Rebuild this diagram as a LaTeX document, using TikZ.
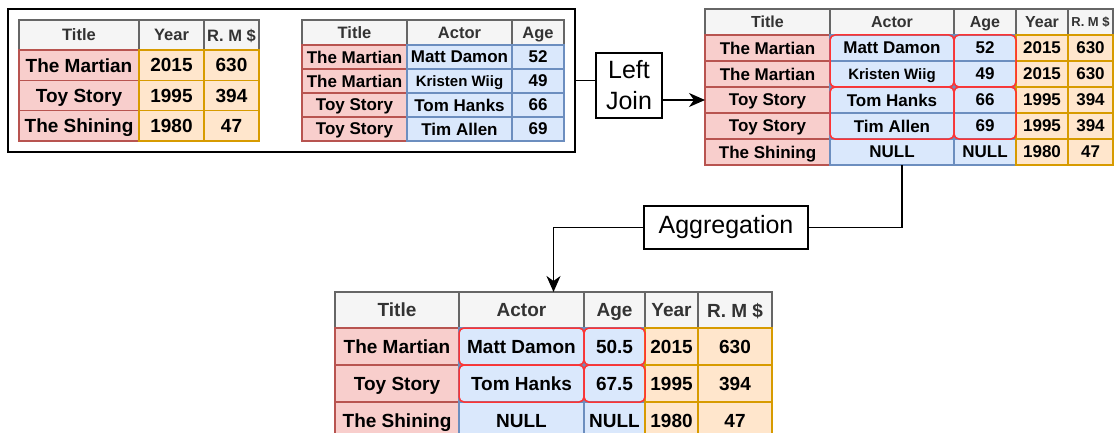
\documentclass[tikz,border=0pt]{standalone}
\usepackage{fontspec}
\setmainfont{Liberation Sans}
\usetikzlibrary{positioning,fit,arrows.meta}
\definecolor{headfill}{HTML}{F5F5F5}
\definecolor{headline}{HTML}{666666}
\definecolor{headtext}{HTML}{333333}
\definecolor{redfill}{HTML}{F8CECC}
\definecolor{redline}{HTML}{B85450}
\definecolor{bluefill}{HTML}{DAE8FC}
\definecolor{blueline}{HTML}{6C8EBF}
\definecolor{orangefill}{HTML}{FFE6CC}
\definecolor{orangeline}{HTML}{D79B00}
\definecolor{markline}{HTML}{FF3333}
\newcommand{\fsize}[1]{\fontsize{#1}{#1}\selectfont}

\begin{document}
\begin{tikzpicture}[x=1pt,y=-1pt]
            \tikzstyle{cell}=[draw, line width=1.5pt, inner sep=0pt, outer sep=0pt, text depth=0pt]
            \tikzstyle{head}=[cell, fill=headfill, draw=headline, text=headtext]
            \tikzstyle{title}=[cell, fill=redfill, draw=redline]
            \tikzstyle{actor}=[cell, fill=bluefill, draw=blueline]
            \tikzstyle{movie}=[cell, fill=orangefill, draw=orangeline]
            \tikzstyle{group}=[draw=markline, line width=1.5pt, rounded corners=5pt]
            \tikzstyle{label}=[draw, line width=1.5pt, fill=white, inner sep=0pt, outer sep=0pt]
            \tikzstyle{link}=[line width=1.5pt]
            \useasboundingbox (0,0) rectangle (1115,433);
            % movies
            \begin{scope}[font=\fsize{19}\bfseries]
                \node[head, minimum width=120pt, minimum height=30pt, anchor=north west, font=\fsize{16.5}\bfseries] (m-0-1) at (19,20) {Title};
                \node[head, minimum width=65pt, minimum height=30pt, right=0pt of m-0-1, font=\fsize{16.5}\bfseries] (m-0-2) {Year};
                \node[head, minimum width=55pt, minimum height=30pt, right=0pt of m-0-2, font=\fsize{16.5}\bfseries] (m-0-3) {R. M \$};
                \foreach \y/\ttl/\yr/\rev [count=\n] in {50/The Martian/2015/630, 80.3/Toy Story/1995/394, 110.6/The Shining/1980/47} {
                    \node[title, minimum width=120pt, minimum height=30.3pt, anchor=north west] (m-\n-1) at (19,\y) {\ttl};
                    \node[movie, minimum width=65pt, minimum height=30.3pt, right=0pt of m-\n-1] (m-\n-2) {\yr};
                    \node[movie, minimum width=55pt, minimum height=30.3pt, right=0pt of m-\n-2] (m-\n-3) {\rev};
                }
            \end{scope}
            % cast
            \begin{scope}[font=\fsize{17}\bfseries]
                \node[head, minimum width=105pt, minimum height=25pt, anchor=north west, font=\fsize{16.5}\bfseries] (j-0-1) at (302,20) {Title};
                \node[head, minimum width=105pt, minimum height=25pt, right=0pt of j-0-1, font=\fsize{16.5}\bfseries] (j-0-2) {Actor};
                \node[head, minimum width=52pt, minimum height=25pt, right=0pt of j-0-2, font=\fsize{16.5}\bfseries] (j-0-3) {Age};
                \foreach \y/\ttl/\who/\age [count=\n] in {45/The Martian/Matt Damon/52, 69/The Martian/{\fsize{15}Kristen Wiig}/49, 93/Toy Story/Tom Hanks/66, 117/Toy Story/Tim Allen/69} {
                    \node[title, minimum width=105pt, minimum height=24pt, anchor=north west] (j-\n-1) at (302,\y) {\ttl};
                    \node[actor, minimum width=105pt, minimum height=24pt, right=0pt of j-\n-1] (j-\n-2) {\who};
                    \node[actor, minimum width=52pt, minimum height=24pt, right=0pt of j-\n-2] (j-\n-3) {\age};
                }
            \end{scope}
            \node[draw, line width=2pt, fit=(m-0-1)(j-4-3), inner sep=11pt, outer sep=0pt] (inputs) {};
            % joined
            \begin{scope}[font=\fsize{17}\bfseries]
                \node[head, minimum width=125pt, minimum height=26pt, anchor=north west, font=\fsize{16}\bfseries] (l-0-1) at (705,9) {Title};
                \node[head, minimum width=124pt, minimum height=26pt, right=0pt of l-0-1, font=\fsize{16}\bfseries] (l-0-2) {Actor};
                \node[head, minimum width=62pt, minimum height=26pt, right=0pt of l-0-2, font=\fsize{16}\bfseries] (l-0-3) {Age};
                \node[head, minimum width=52pt, minimum height=26pt, right=0pt of l-0-3, font=\fsize{16}\bfseries] (l-0-4) {Year};
                \node[head, minimum width=45pt, minimum height=26pt, right=0pt of l-0-4, font=\fsize{13}\bfseries] (l-0-5) {R. M \$};
                \foreach \y/\ttl/\who/\age/\yr/\rev [count=\n] in {35/The Martian/Matt Damon/52/2015/630, 61/The Martian/{\fsize{15}Kristen Wiig}/49/2015/630, 87/Toy Story/Tom Hanks/66/1995/394, 113/Toy Story/Tim Allen/69/1995/394, 139/The Shining/NULL/NULL/1980/47} {
                    \node[title, minimum width=125pt, minimum height=26pt, anchor=north west] (l-\n-1) at (705,\y) {\ttl};
                    \node[actor, minimum width=124pt, minimum height=26pt, right=0pt of l-\n-1] (l-\n-2) {\who};
                    \node[actor, minimum width=62pt, minimum height=26pt, right=0pt of l-\n-2] (l-\n-3) {\age};
                    \node[movie, minimum width=52pt, minimum height=26pt, right=0pt of l-\n-3] (l-\n-4) {\yr};
                    \node[movie, minimum width=45pt, minimum height=26pt, right=0pt of l-\n-4] (l-\n-5) {\rev};
                }
            \end{scope}
            \draw[group] (l-1-2.north west) rectangle (l-2-2.south east);
            \draw[group] (l-3-2.north west) rectangle (l-4-2.south east);
            \draw[group] (l-1-3.north west) rectangle (l-2-3.south east);
            \draw[group] (l-3-3.north west) rectangle (l-4-3.south east);
            % aggregated
            \begin{scope}[font=\fsize{19}\bfseries]
                \node[head, minimum width=124pt, minimum height=36pt, anchor=north west] (a-0-1) at (335,292) {Title};
                \node[head, minimum width=125pt, minimum height=36pt, right=0pt of a-0-1] (a-0-2) {Actor};
                \node[head, minimum width=61pt, minimum height=36pt, right=0pt of a-0-2] (a-0-3) {Age};
                \node[head, minimum width=53pt, minimum height=36pt, right=0pt of a-0-3] (a-0-4) {Year};
                \node[head, minimum width=74pt, minimum height=36pt, right=0pt of a-0-4] (a-0-5) {R. M \$};
                \foreach \y/\ttl/\who/\age/\yr/\rev [count=\n] in {328/The Martian/Matt Damon/50.5/2015/630, 365/Toy Story/Tom Hanks/67.5/1995/394, 402/The Shining/NULL/NULL/1980/47} {
                    \node[title, minimum width=124pt, minimum height=37pt, anchor=north west] (a-\n-1) at (335,\y) {\ttl};
                    \node[actor, minimum width=125pt, minimum height=37pt, right=0pt of a-\n-1] (a-\n-2) {\who};
                    \node[actor, minimum width=61pt, minimum height=37pt, right=0pt of a-\n-2] (a-\n-3) {\age};
                    \node[movie, minimum width=53pt, minimum height=37pt, right=0pt of a-\n-3] (a-\n-4) {\yr};
                    \node[movie, minimum width=74pt, minimum height=37pt, right=0pt of a-\n-4] (a-\n-5) {\rev};
                }
            \end{scope}
            \draw[group] (a-1-2.north west) rectangle (a-1-2.south east);
            \draw[group] (a-2-2.north west) rectangle (a-2-2.south east);
            \draw[group] (a-1-3.north west) rectangle (a-1-3.south east);
            \draw[group] (a-2-3.north west) rectangle (a-2-3.south east);
            \node[fit=(a-0-1)(a-0-5), inner sep=0pt, outer sep=0pt] (output) {};
            % operations
            \node[label, minimum width=66pt, minimum height=65pt, align=center, font=\fontsize{25}{31}\selectfont] (join) at (629,85.5) {Left\\Join};
            \node[label, minimum width=164pt, minimum height=43pt, font=\fsize{25}] (agg) at (726,227.5) {Aggregation};
            \draw[link] (inputs.east) -- (join.west |- inputs.east);
            \draw[link, -{Stealth[length=16pt, width=14pt, inset=5pt]}] (join.east |- l-3-1.west) -- (l-3-1.west);
            \draw[link] ([xshift=10pt]l-5-2.south) |- (agg.east);
            \draw[link, -{Stealth[length=16pt, width=14pt, inset=5pt]}] (agg.west) -| (output.north);
        \end{tikzpicture}
\end{document}
